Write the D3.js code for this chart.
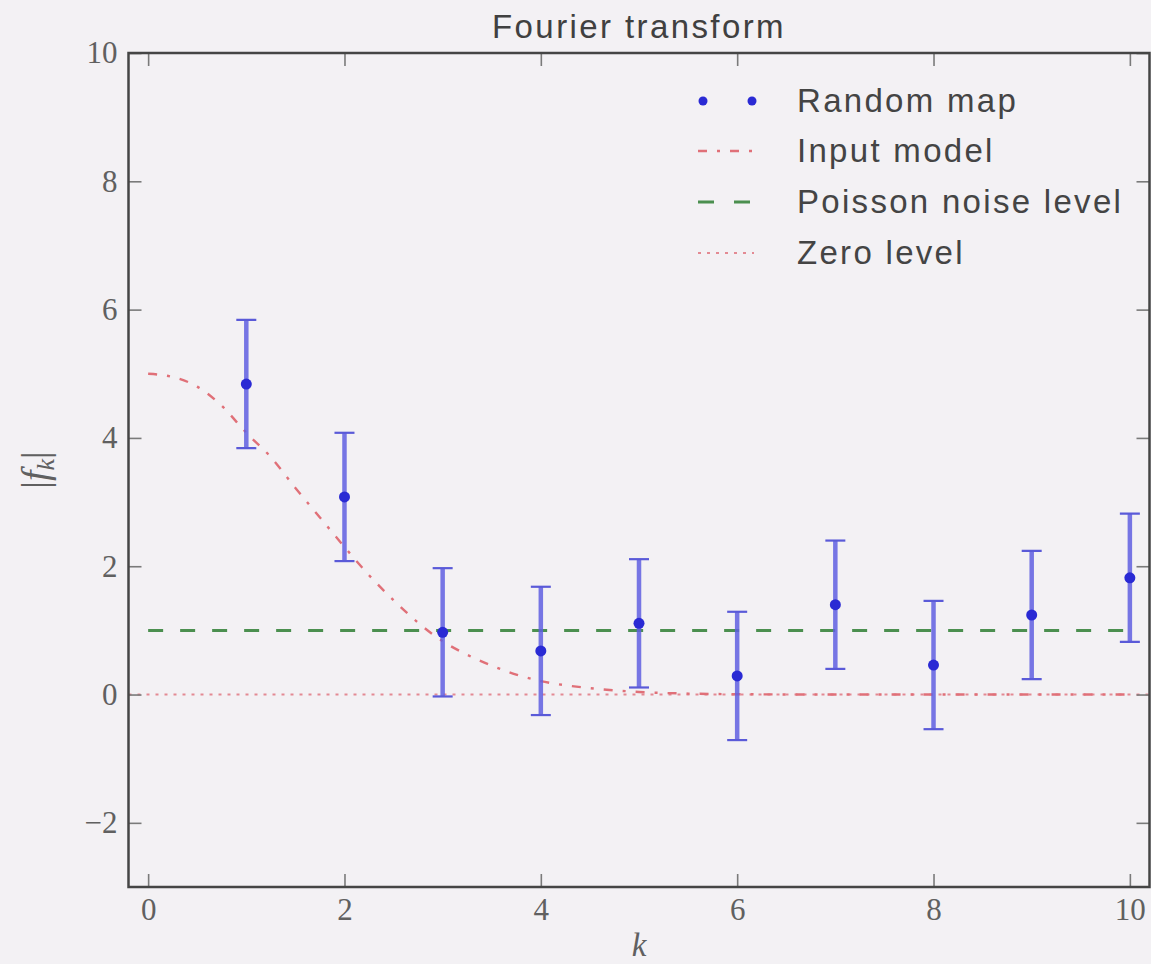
<!DOCTYPE html>
<html>
<head>
<meta charset="utf-8">
<script src="https://cdn.jsdelivr.net/npm/d3@7"></script>
<style>
  html, body { margin: 0; padding: 0; background: #f3f1f4; }
  svg { display: block; }
</style>
</head>
<body>
<svg id="chart" width="1151" height="964"></svg>
<script>
// Measured Fourier amplitudes |f_k| with 1-sigma errors
const kValues  = [1, 2, 3, 4, 5, 6, 7, 8, 9, 10];
const fkValues = [4.84, 3.08, 0.97, 0.68, 1.11, 0.29, 1.40, 0.46, 1.24, 1.82];
const fkErrors = [1.0, 1.0, 1.0, 1.0, 1.0, 1.0, 1.0, 1.0, 1.0, 1.0];

// Input model curve
const modelK = [0, 0.25, 0.5, 0.75, 1, 1.25, 1.5, 1.75, 2, 2.25, 2.5, 2.75, 3, 3.25, 3.5, 3.75, 4, 4.5, 5, 5.5, 6, 7, 8, 9, 10];
const modelF = [5.0, 4.95, 4.80, 4.50, 4.08, 3.70, 3.22, 2.76, 2.30, 1.86, 1.47, 1.12, 0.83, 0.62, 0.45, 0.31, 0.21, 0.10, 0.04, 0.015, 0.005, 0, 0, 0, 0];

// Reference levels
const poissonLevel = 1.0;
const zeroLevel = 0.0;

const xTicks = [0, 2, 4, 6, 8, 10];
const yTicks = [-2, 0, 2, 4, 6, 8, 10];
const legendLabels = ["Random map", "Input model", "Poisson noise level", "Zero level"];

const svg = d3.select("#chart");
const plotLeft = 128.5, plotRight = 1149.5, plotTop = 53, plotBottom = 887;

const x = d3.scaleLinear().domain([-0.2, 10.2]).range([plotLeft, plotRight]);
const y = d3.scaleLinear().domain([-3, 10]).range([plotBottom, plotTop]);

const sans = "'Liberation Sans', Arial, sans-serif";
const serif = "'Liberation Serif', 'DejaVu Serif', serif";

// clip for plot area
svg.append("defs").append("clipPath").attr("id", "plotClip")
  .append("rect").attr("x", plotLeft).attr("y", plotTop)
  .attr("width", plotRight - plotLeft).attr("height", plotBottom - plotTop);

const plot = svg.append("g").attr("clip-path", "url(#plotClip)");

// Zero level (dotted)
plot.append("line")
  .attr("x1", x(-0.2)).attr("x2", x(10.2))
  .attr("y1", y(zeroLevel)).attr("y2", y(zeroLevel))
  .attr("stroke", "#e38a93").attr("stroke-width", 2)
  .attr("stroke-dasharray", "3,6");

// Poisson noise level (dashed)
plot.append("line")
  .attr("x1", x(0)).attr("x2", x(10))
  .attr("y1", y(poissonLevel)).attr("y2", y(poissonLevel))
  .attr("stroke", "#4b8f4f").attr("stroke-width", 3)
  .attr("stroke-dasharray", "15,17");

// Input model (dash-dot)
const modelLine = d3.line()
  .x((d, i) => x(modelK[i]))
  .y((d) => y(d))
  .curve(d3.curveMonotoneX);
plot.append("path")
  .datum(modelF)
  .attr("d", modelLine)
  .attr("fill", "none")
  .attr("stroke", "#e07078").attr("stroke-width", 2.4)
  .attr("stroke-dasharray", "9,10,3,10");

// Error bars
const pts = kValues.map((k, i) => ({ k, f: fkValues[i], e: fkErrors[i] }));
const bars = plot.append("g");
bars.selectAll("line.bar").data(pts).join("line")
  .attr("class", "bar")
  .attr("x1", d => x(d.k)).attr("x2", d => x(d.k))
  .attr("y1", d => y(d.f - d.e)).attr("y2", d => y(d.f + d.e))
  .attr("stroke", "#5f5fe0").attr("stroke-width", 4.5).attr("stroke-opacity", 0.85);
bars.selectAll("line.capTop").data(pts).join("line")
  .attr("class", "capTop")
  .attr("x1", d => x(d.k) - 10).attr("x2", d => x(d.k) + 10)
  .attr("y1", d => y(d.f + d.e)).attr("y2", d => y(d.f + d.e))
  .attr("stroke", "#5a5ad8").attr("stroke-width", 2.2);
bars.selectAll("line.capBot").data(pts).join("line")
  .attr("class", "capBot")
  .attr("x1", d => x(d.k) - 10).attr("x2", d => x(d.k) + 10)
  .attr("y1", d => y(d.f - d.e)).attr("y2", d => y(d.f - d.e))
  .attr("stroke", "#5a5ad8").attr("stroke-width", 2.2);
bars.selectAll("circle").data(pts).join("circle")
  .attr("cx", d => x(d.k)).attr("cy", d => y(d.f)).attr("r", 5.5)
  .attr("fill", "#2a2ad4");

// Axes with inward ticks
const tickColor = "#7a7a7a";
function styleAxis(g, showLabels) {
  g.select(".domain").remove();
  g.selectAll(".tick line").attr("stroke", tickColor).attr("stroke-width", 1.6);
  g.selectAll(".tick text")
    .attr("fill", "#606060")
    .style("font-family", serif)
    .style("font-size", "31px");
  if (!showLabels) g.selectAll(".tick text").remove();
}
const fmt = d => d < 0 ? "\u2212" + Math.abs(d) : String(d);

svg.append("g").attr("transform", `translate(0,${plotBottom})`)
  .call(d3.axisBottom(x).tickValues(xTicks).tickFormat(fmt).tickSize(-13).tickPadding(11))
  .call(g => styleAxis(g, true));
svg.append("g").attr("transform", `translate(0,${plotTop})`)
  .call(d3.axisTop(x).tickValues(xTicks).tickSize(-13))
  .call(g => styleAxis(g, false));
svg.append("g").attr("transform", `translate(${plotLeft},0)`)
  .call(d3.axisLeft(y).tickValues(yTicks).tickFormat(fmt).tickSize(-13).tickPadding(11))
  .call(g => styleAxis(g, true));
svg.append("g").attr("transform", `translate(${plotRight},0)`)
  .call(d3.axisRight(y).tickValues(yTicks).tickSize(-13))
  .call(g => styleAxis(g, false));

// Frame
svg.append("rect")
  .attr("x", plotLeft).attr("y", plotTop)
  .attr("width", plotRight - plotLeft).attr("height", plotBottom - plotTop)
  .attr("fill", "none").attr("stroke", "#454545").attr("stroke-width", 2.5);

// Title
svg.append("text")
  .attr("x", (plotLeft + plotRight) / 2).attr("y", 38)
  .attr("text-anchor", "middle")
  .style("font-family", sans).style("font-size", "33px").style("letter-spacing", "2.4px")
  .attr("fill", "#404040")
  .text("Fourier transform");

// Axis labels
svg.append("text")
  .attr("x", (plotLeft + plotRight) / 2).attr("y", 956)
  .attr("text-anchor", "middle")
  .style("font-family", serif).style("font-size", "33px").style("font-style", "italic")
  .attr("fill", "#606060")
  .text("k");

const yl = svg.append("text")
  .attr("transform", `translate(48,${(y(4) + y(3)) / 2}) rotate(-90)`)
  .attr("text-anchor", "middle")
  .style("font-family", serif).style("font-size", "38px")
  .attr("fill", "#606060");
yl.append("tspan").text("|");
yl.append("tspan").style("font-style", "italic").text("f");
yl.append("tspan").style("font-style", "italic").style("font-size", "26px").attr("dy", 6).text("k");
yl.append("tspan").attr("dy", -6).text("|");

// Legend
const legend = svg.append("g");
const rowY = [101, 151, 202, 253];
const sx0 = 700, sx1 = 752, tx = 797;
legendLabels.forEach((lab, i) => {
  legend.append("text")
    .attr("x", tx).attr("y", rowY[i] + 11)
    .style("font-family", sans).style("font-size", "33px").style("letter-spacing", "2.3px")
    .attr("fill", "#444")
    .text(lab);
});
// Random map markers
[sx0 + 3, sx1].forEach(cx => {
  legend.append("circle").attr("cx", cx).attr("cy", rowY[0]).attr("r", 4.5).attr("fill", "#2a2ad4");
});
legend.append("line").attr("x1", sx0 - 2).attr("x2", sx1)
  .attr("y1", rowY[1]).attr("y2", rowY[1])
  .attr("stroke", "#e07078").attr("stroke-width", 2.4).attr("stroke-dasharray", "9,10,3,10");
legend.append("line").attr("x1", sx0 - 2).attr("x2", sx1 + 2)
  .attr("y1", rowY[2]).attr("y2", rowY[2])
  .attr("stroke", "#4b8f4f").attr("stroke-width", 3).attr("stroke-dasharray", "16,20");
legend.append("line").attr("x1", sx0 - 2).attr("x2", sx1 + 2)
  .attr("y1", rowY[3]).attr("y2", rowY[3])
  .attr("stroke", "#e38a93").attr("stroke-width", 2).attr("stroke-dasharray", "3,6");
</script>
</body>
</html>
